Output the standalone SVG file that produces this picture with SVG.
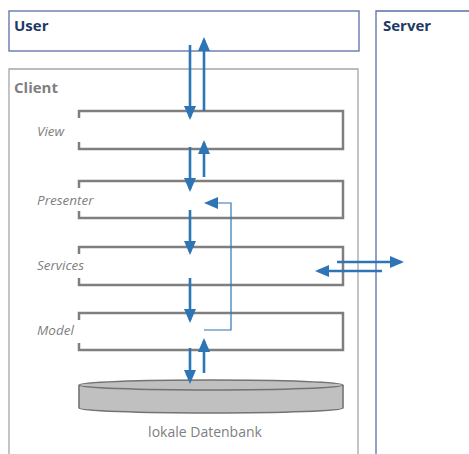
<svg xmlns="http://www.w3.org/2000/svg" width="469" height="454" viewBox="0 0 469 454">
  <style>
    .title { font-family: "Open Sans", "Liberation Sans", sans-serif; font-weight: bold; font-size: 15px; }
    .layer-label { font-family: "Open Sans", "Liberation Sans", sans-serif; font-style: italic; font-size: 13.5px; fill: #7f7f7f; }
    .layer { fill: none; stroke: #7f7f7f; stroke-width: 2.5; }
    .flow { fill: none; stroke: #2e75b6; stroke-width: 2.6; marker-end: url(#head); }
    .flow-thin { fill: none; stroke: #2e75b6; stroke-width: 1.2; marker-end: url(#head); }
  </style>
  <defs>
    <marker id="head" markerUnits="userSpaceOnUse" markerWidth="14" markerHeight="12" refX="11" refY="6" orient="auto">
      <path d="M0,0 L14,6 L0,12 z" fill="#2e75b6"/>
    </marker>
  </defs>

  <rect width="469" height="454" fill="#ffffff"/>

  <!-- User area -->
  <g id="user">
    <rect x="9" y="11" width="350" height="40" fill="none" stroke="#5b6fa8" stroke-width="1.3"/>
    <text class="title" x="14" y="31" fill="#1f3864">User</text>
  </g>

  <!-- Server area -->
  <g id="server">
    <path d="M470,11 H376 V460" fill="none" stroke="#5b6fa8" stroke-width="1.3"/>
    <text class="title" x="383" y="31" fill="#1f3864">Server</text>
  </g>

  <!-- Client area -->
  <g id="client">
    <path d="M9,460 V69 H358 V460" fill="none" stroke="#a6a6a6" stroke-width="1.3"/>
    <text class="title" x="14" y="93" fill="#7f7f7f">Client</text>
  </g>

  <!-- Layers -->
  <g id="view">
    <path class="layer" d="M79,118 V111 H343 V149 H79 V142"/>
    <text class="layer-label" x="37" y="136">View</text>
  </g>
  <g id="presenter">
    <path class="layer" d="M79,188 V181 H343 V218 H79 V211"/>
    <text class="layer-label" x="37" y="205">Presenter</text>
  </g>
  <g id="services">
    <path class="layer" d="M79,254 V247 H343 V285 H79 V278"/>
    <text class="layer-label" x="37" y="270">Services</text>
  </g>
  <g id="model">
    <path class="layer" d="M79,320 V313 H343 V350 H79 V343"/>
    <text class="layer-label" x="37" y="335">Model</text>
  </g>

  <!-- Local database -->
  <g id="database">
    <path d="M79,385 V408 A132,5 0 0 0 343,408 V385" fill="#c0c0c0" stroke="#737373" stroke-width="1.6"/>
    <ellipse cx="211" cy="385" rx="132" ry="5" fill="#c0c0c0" stroke="#737373" stroke-width="1.6"/>
    <text x="205" y="437" text-anchor="middle" font-family="Open Sans, Liberation Sans, sans-serif" font-size="14" fill="#808080">lokale Datenbank</text>
  </g>

  <!-- Connectors -->
  <g id="connectors">
    <line class="flow" x1="190" y1="45" x2="190" y2="117"/>
    <line class="flow" x1="204" y1="111" x2="204" y2="40"/>
    <line class="flow" x1="190" y1="147" x2="190" y2="189"/>
    <line class="flow" x1="204" y1="177" x2="204" y2="143"/>
    <line class="flow" x1="190" y1="210" x2="190" y2="252"/>
    <line class="flow" x1="190" y1="278" x2="190" y2="320"/>
    <line class="flow" x1="190" y1="348" x2="190" y2="381"/>
    <line class="flow" x1="204" y1="373" x2="204" y2="341"/>
    <line class="flow" x1="337" y1="262" x2="401" y2="262"/>
    <line class="flow" x1="382" y1="271" x2="318" y2="271"/>
    <path class="flow-thin" d="M204,330 H231 V203 H207"/>
  </g>
</svg>
